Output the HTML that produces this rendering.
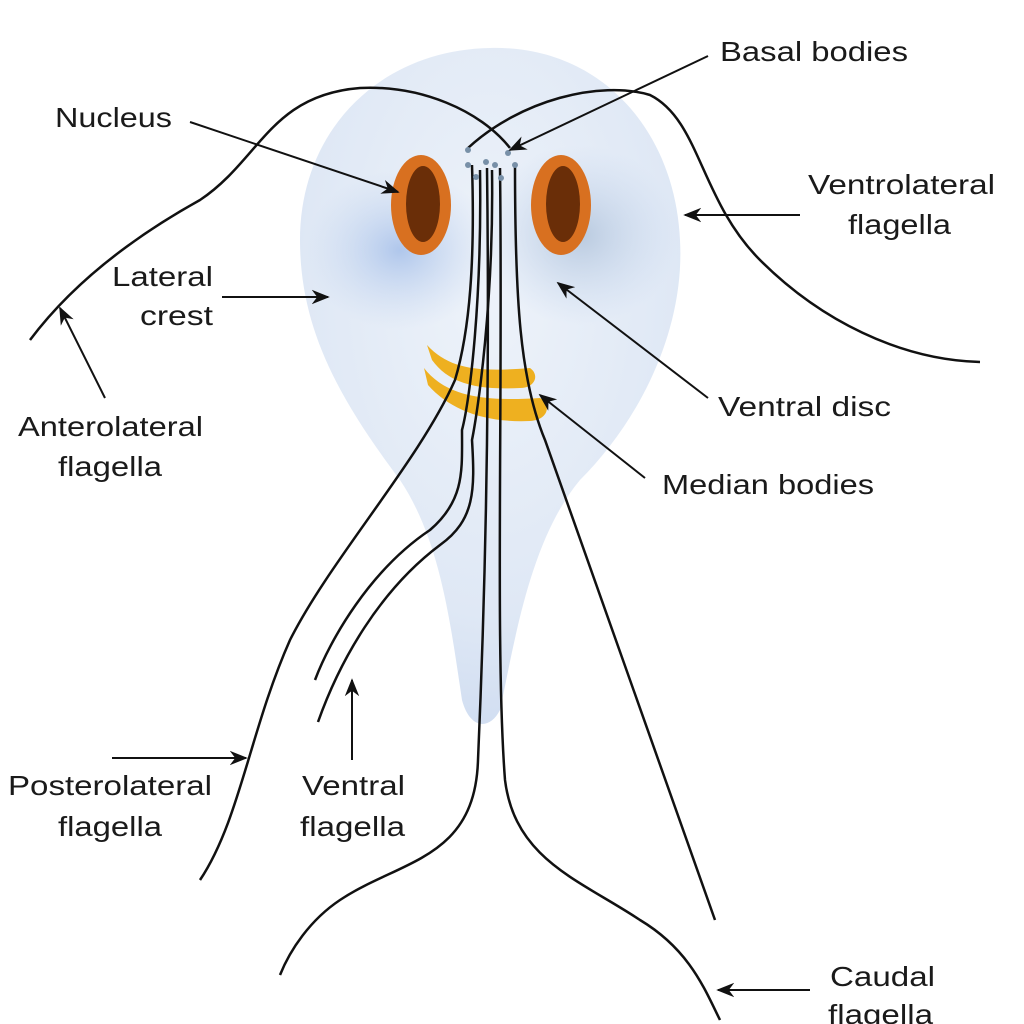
<!DOCTYPE html>
<html><head><meta charset="utf-8"><style>
html,body{margin:0;padding:0;background:#fff;}
svg{display:block;}
text{font-family:"Liberation Sans",Arial,sans-serif;font-size:28px;fill:#1a1a1a;}
</style></head><body>
<svg width="1024" height="1024" viewBox="0 0 1024 1024" xmlns="http://www.w3.org/2000/svg">
<defs>
<radialGradient id="bg" cx="0.5" cy="0.35" r="0.7">
<stop offset="0" stop-color="#eef3fa"/><stop offset="0.7" stop-color="#dfe8f5"/><stop offset="1" stop-color="#cddbf0"/>
</radialGradient>
<radialGradient id="lobeL" cx="0.5" cy="0.5" r="0.5"><stop offset="0" stop-color="#a9c2ea" stop-opacity="0.9"/><stop offset="1" stop-color="#c8d8f0" stop-opacity="0"/></radialGradient>
<radialGradient id="lobeR" cx="0.5" cy="0.5" r="0.5"><stop offset="0" stop-color="#b4c6dc" stop-opacity="0.9"/><stop offset="1" stop-color="#c8d8f0" stop-opacity="0"/></radialGradient>
<marker id="ar" viewBox="0 0 10 10" refX="9" refY="5" markerWidth="9" markerHeight="9" orient="auto"><path d="M0,1 L10,5 L0,9 L3,5z" fill="#111"/></marker>
</defs>
<path d="M490,48 C600,45 675,130 680,240 C685,330 640,420 580,480 C530,540 515,640 500,710 C490,730 470,730 462,700 C450,620 440,540 400,480 C340,400 300,330 300,240 C300,130 380,50 490,48Z" fill="url(#bg)"/>
<ellipse cx="400" cy="250" rx="95" ry="80" fill="url(#lobeL)"/>
<ellipse cx="580" cy="235" rx="100" ry="90" fill="url(#lobeR)"/>
<ellipse cx="421" cy="205" rx="30" ry="50" fill="#d87020"/>
<ellipse cx="423" cy="204" rx="17" ry="38" fill="#6a2e08"/>
<ellipse cx="561" cy="205" rx="30" ry="50" fill="#d87020"/>
<ellipse cx="563" cy="204" rx="17" ry="38" fill="#6a2e08"/>
<path d="M427,345 C450,370 480,372 530,368 C540,375 535,388 520,388 C480,390 450,385 432,360Z" fill="#eeb020"/>
<path d="M424,368 C445,395 480,402 540,398 C552,405 548,420 530,421 C485,423 450,410 428,385Z" fill="#eeb020"/>
<g fill="none" stroke="#111" stroke-width="2.5">
<path d="M30,340 C60,300 110,250 200,200 C260,160 270,95 360,88 C420,85 480,110 510,148"/>
<path d="M468,148 C520,100 600,80 650,95 C700,120 700,200 760,260 C820,320 900,360 980,362"/>
<path d="M472,165 C475,260 470,330 455,380 C420,460 330,560 290,640 C250,730 240,820 200,880"/>
<path d="M515,165 C515,300 520,380 545,440 C580,540 620,650 715,920"/>
<path d="M480,170 C482,300 470,400 462,430 C462,470 465,500 430,530 C370,570 330,640 315,680"/>
<path d="M492,170 C494,300 478,410 472,440 C475,490 475,520 440,545 C380,590 340,660 318,722"/>
<path d="M487,168 C490,400 485,600 478,760 C475,860 400,860 340,900 C310,920 290,950 280,975"/>
<path d="M500,168 C503,400 495,650 505,780 C515,860 580,880 640,920 C690,950 705,990 720,1020"/>
</g>
<g fill="#7890a8"><circle cx="468" cy="150" r="3"/><circle cx="468" cy="165" r="3"/><circle cx="476" cy="177" r="3"/><circle cx="486" cy="162" r="3"/><circle cx="495" cy="165" r="3"/><circle cx="501" cy="178" r="3"/><circle cx="508" cy="153" r="3"/><circle cx="515" cy="165" r="3"/></g>
<g fill="none" stroke="#111" stroke-width="2" marker-end="url(#ar)">
<path d="M190,122 L398,192"/>
<path d="M708,56 L510,150"/>
<path d="M800,215 L685,215"/>
<path d="M222,297 L328,297"/>
<path d="M708,398 L558,283"/>
<path d="M645,478 L540,395"/>
<path d="M105,398 L60,308"/>
<path d="M112,758 L246,758"/>
<path d="M352,760 L352,680"/>
<path d="M810,990 L718,990"/>
</g>
<text x="55" y="127" textLength="117" lengthAdjust="spacingAndGlyphs">Nucleus</text>
<text x="720" y="61" textLength="188" lengthAdjust="spacingAndGlyphs">Basal bodies</text>
<text x="808" y="194" textLength="187" lengthAdjust="spacingAndGlyphs">Ventrolateral</text>
<text x="848" y="234" textLength="103" lengthAdjust="spacingAndGlyphs">flagella</text>
<text x="112" y="286" textLength="101" lengthAdjust="spacingAndGlyphs">Lateral</text>
<text x="140" y="325" textLength="73" lengthAdjust="spacingAndGlyphs">crest</text>
<text x="718" y="416" textLength="173" lengthAdjust="spacingAndGlyphs">Ventral disc</text>
<text x="18" y="436" textLength="185" lengthAdjust="spacingAndGlyphs">Anterolateral</text>
<text x="58" y="476" textLength="104" lengthAdjust="spacingAndGlyphs">flagella</text>
<text x="662" y="494" textLength="212" lengthAdjust="spacingAndGlyphs">Median bodies</text>
<text x="8" y="795" textLength="204" lengthAdjust="spacingAndGlyphs">Posterolateral</text>
<text x="58" y="836" textLength="104" lengthAdjust="spacingAndGlyphs">flagella</text>
<text x="302" y="795" textLength="103" lengthAdjust="spacingAndGlyphs">Ventral</text>
<text x="300" y="836" textLength="105" lengthAdjust="spacingAndGlyphs">flagella</text>
<text x="830" y="986" textLength="105" lengthAdjust="spacingAndGlyphs">Caudal</text>
<text x="828" y="1024" textLength="105" lengthAdjust="spacingAndGlyphs">flagella</text>
</svg>
</body></html>
